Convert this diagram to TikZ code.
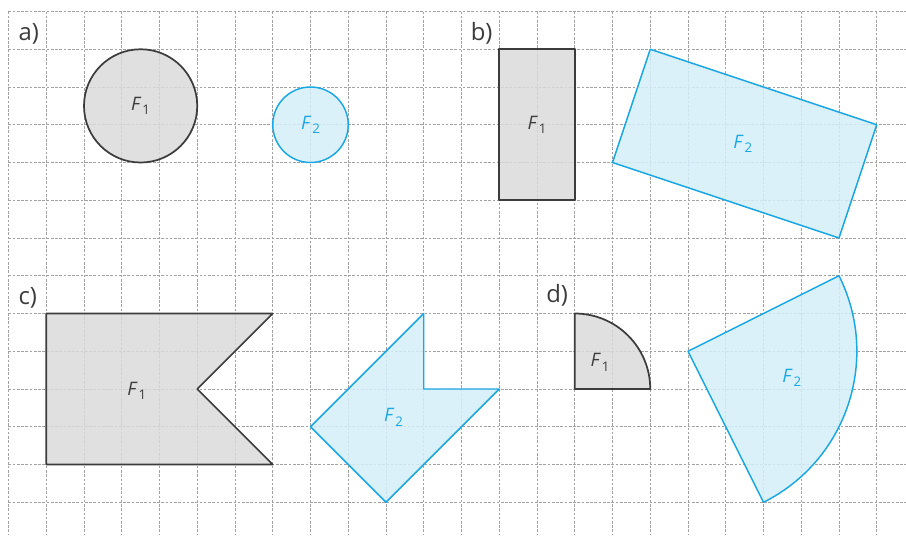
\documentclass[tikz,border=0pt]{standalone}
\usepackage{fontspec}
\setmainfont{Open Sans}

\definecolor{inkgray}{HTML}{3C3C3C}
\definecolor{shadegray}{HTML}{DADADA}
\definecolor{skyline}{HTML}{1AA7E2}
\definecolor{skyfill}{HTML}{D4EEF9}
\definecolor{gridgray}{HTML}{A2A2A2}

\newcommand{\fname}[1]{\textit{F}\kern0.05em\raisebox{-0.45ex}{\fontsize{10}{11}\selectfont #1}}

\begin{document}
\begin{tikzpicture}[
  font=\fontsize{14}{16}\selectfont,
  gridline/.style={gridgray, dash pattern=on 2pt off 1.2pt, line width=0.45pt},
  part/.style={anchor=base west, inner sep=0pt, text=inkgray, font=\fontsize{18}{20}\selectfont},
  given/.style={draw=inkgray, fill=shadegray, fill opacity=0.85, line width=1.3pt, line join=round},
  image/.style={draw=skyline, fill=skyfill, fill opacity=0.85, line width=1.1pt, line join=round},
  givenlabel/.style={text=inkgray, inner sep=1pt},
  imagelabel/.style={text=skyline, inner sep=1pt}
]
\useasboundingbox (-0.225,0.305) rectangle (23.775,-13.868);

% squared paper
\foreach \i in {0,...,23}
  \draw[gridline] (\i,0) -- (\i,-13.868);
\foreach \j in {0,...,13}
  \draw[gridline] (0,-\j) -- (23.775,-\j);

% a) circles
\node[part] (pa) at (0.26,-0.77) {a)};
\draw[given] (3.5,-2.5) circle[radius=1.5];
\draw[image] (8,-3) circle[radius=1];
\node[givenlabel] (fa1) at (3.5,-2.5) {\fname{1}};
\node[imagelabel] (fa2) at (8,-3) {\fname{2}};

% b) rectangles
\node[part] (pb) at (12.24,-0.77) {b)};
\draw[given] (13,-1) rectangle (15,-5);
\draw[image] (17,-1) -- (23,-3) -- (22,-6) -- (16,-4) -- cycle;
\node[givenlabel] (fb1) at (14,-3) {\fname{1}};
\node[imagelabel] (fb2) at (19.45,-3.5) {\fname{2}};

% c) polygons
\node[part] (pc) at (0.26,-7.75) {c)};
\draw[given] (1,-8) -- (7,-8) -- (5,-10) -- (7,-12) -- (1,-12) -- cycle;
\draw[image] (11,-8) -- (11,-10) -- (13,-10) -- (10,-13) -- (8,-11) -- cycle;
\node[givenlabel] (fc1) at (3.4,-10.05) {\fname{1}};
\node[imagelabel] (fc2) at (10.2,-10.75) {\fname{2}};

% d) sectors
\node[part] (pd) at (14.24,-7.7) {d)};
\draw[given] (15,-10) -- (15,-8) arc[start angle=90, end angle=0, radius=2] -- cycle;
\draw[image] (18,-9) -- (20,-13) arc[start angle=-63.435, end angle=26.565, radius=4.4721] -- cycle;
\node[givenlabel] (fd1) at (15.67,-9.3) {\fname{1}};
\node[imagelabel] (fd2) at (20.75,-9.7) {\fname{2}};
\end{tikzpicture}
\end{document}
